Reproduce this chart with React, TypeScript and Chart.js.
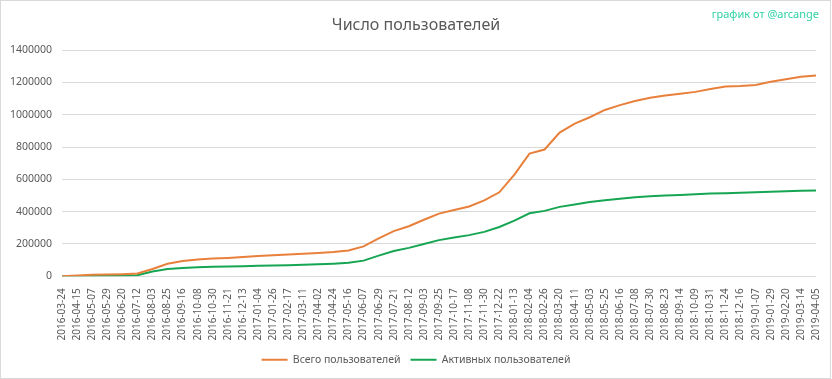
import React, { useEffect, useRef } from "react";
import { Chart, registerables } from "chart.js";

Chart.register(...registerables);

const dates: string[] = [
  "2016-03-24", "2016-04-15", "2016-05-07", "2016-05-29", "2016-06-20", "2016-07-12",
  "2016-08-03", "2016-08-25", "2016-09-16", "2016-10-08", "2016-10-30", "2016-11-21",
  "2016-12-13", "2017-01-04", "2017-01-26", "2017-02-17", "2017-03-11", "2017-04-02",
  "2017-04-24", "2017-05-16", "2017-06-07", "2017-06-29", "2017-07-21", "2017-08-12",
  "2017-09-03", "2017-09-25", "2017-10-17", "2017-11-08", "2017-11-30", "2017-12-22",
  "2018-01-13", "2018-02-04", "2018-02-26", "2018-03-20", "2018-04-11", "2018-05-03",
  "2018-05-25", "2018-06-16", "2018-07-08", "2018-07-30", "2018-08-23", "2018-09-14",
  "2018-10-09", "2018-10-31", "2018-11-24", "2018-12-16", "2019-01-07", "2019-01-29",
  "2019-02-20", "2019-03-14", "2019-04-05",
];

const totalUsers: number[] = [
  0, 5000, 9000, 11000, 13000, 17000, 45000, 78000, 95000, 104000,
  110000, 114000, 120000, 126000, 130000, 135000, 139000, 144000, 150000, 160000,
  185000, 235000, 280000, 310000, 350000, 388000, 410000, 432000, 470000, 520000,
  630000, 760000, 785000, 890000, 945000, 985000, 1030000, 1060000, 1085000, 1105000,
  1120000, 1130000, 1142000, 1160000, 1175000, 1178000, 1185000, 1205000, 1220000, 1235000,
  1243000,
];

const activeUsers: number[] = [
  0, 1000, 2000, 3000, 4000, 6000, 30000, 45000, 52000, 56000,
  59000, 61000, 63000, 65000, 67000, 69000, 71000, 74000, 78000, 84000,
  97000, 128000, 157000, 176000, 200000, 224000, 240000, 255000, 275000, 305000,
  345000, 390000, 405000, 430000, 445000, 460000, 471000, 480000, 490000, 496000,
  500000, 504000, 508000, 512000, 515000, 517000, 520000, 523000, 527000, 530000,
  532000,
];

const seriesNames: string[] = ["Всего пользователей", "Активных пользователей"];
const titleText = "Число пользователей";
const creditText = "график от @arcange";

const FONT = "'Noto Sans', sans-serif";
const GRAY = "#595959";

const creditPlugin = {
  id: "credit",
  afterDraw(chart: any) {
    const ctx = chart.ctx;
    ctx.save();
    ctx.font = `11px ${FONT}`;
    ctx.fillStyle = "#2ed1a4";
    ctx.textAlign = "right";
    ctx.textBaseline = "middle";
    ctx.fillText(creditText, 819, 15);
    ctx.restore();
  },
};

export default function App() {
  const ref = useRef<HTMLCanvasElement | null>(null);

  useEffect(() => {
    if (!ref.current) return;
    const chart = new Chart(ref.current, {
      type: "line",
      data: {
        labels: dates,
        datasets: [
          {
            label: seriesNames[0],
            data: totalUsers,
            borderColor: "#e8803c",
            backgroundColor: "#e8803c",
            borderWidth: 2,
            pointRadius: 0,
            tension: 0,
          },
          {
            label: seriesNames[1],
            data: activeUsers,
            borderColor: "#16a653",
            backgroundColor: "#16a653",
            borderWidth: 2,
            pointRadius: 0,
            tension: 0,
          },
        ],
      },
      options: {
        animation: false,
        responsive: false,
        maintainAspectRatio: false,
        layout: { padding: { left: 0, right: 0, top: 0, bottom: 4 } },
        plugins: {
          title: {
            display: true,
            text: titleText,
            color: GRAY,
            font: { family: FONT, size: 16, weight: "normal" },
            padding: { top: 16, bottom: 15 },
          },
          legend: {
            position: "bottom",
            labels: {
              color: GRAY,
              font: { family: FONT, size: 10.5 },
              usePointStyle: true,
              pointStyle: "line",
              pointStyleWidth: 26,
              boxHeight: 2,
              padding: 10,
            },
          },
          tooltip: { enabled: false },
        },
        scales: {
          x: {
            offset: false,
            grid: { display: false },
            border: { display: false },
            ticks: {
              color: GRAY,
              font: { family: FONT, size: 10 },
              autoSkip: false,
              maxRotation: 90,
              minRotation: 90,
              padding: 4,
            },
          },
          y: {
            min: 0,
            max: 1400000,
            grid: { color: "#d9d9d9", drawTicks: false },
            border: { display: false },
            afterFit: (scale: any) => {
              scale.width = 62;
            },
            ticks: {
              stepSize: 200000,
              color: GRAY,
              font: { family: FONT, size: 10.5 },
              padding: 10,
              callback: (v: any) => String(v),
            },
          },
          yRightSpacer: {
            position: "right",
            display: true,
            min: 0,
            max: 1400000,
            grid: { display: false, drawTicks: false },
            border: { display: false },
            ticks: { display: false },
            afterFit: (scale: any) => {
              scale.width = 14;
            },
          },
        },
      },
      plugins: [creditPlugin],
    });
    return () => chart.destroy();
  }, []);

  return (
    <div style={{ position: "fixed", left: 0, top: 0, width: 832, height: 379, background: "#fff" }}>
      <canvas ref={ref} width={832} height={379} style={{ position: "absolute", left: 0, top: 0 }} />
      <div
        style={{
          position: "absolute",
          left: 0,
          top: 0,
          width: 831,
          height: 379,
          boxSizing: "border-box",
          border: "1px solid #d9d9d9",
          pointerEvents: "none",
        }}
      />
    </div>
  );
}
